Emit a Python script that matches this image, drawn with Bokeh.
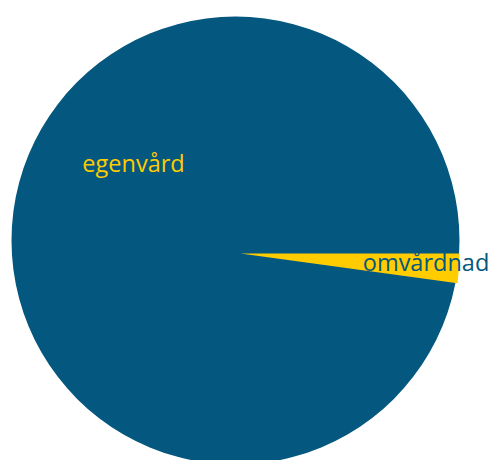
import math
from bokeh.plotting import figure
from bokeh.models import Range1d, ColumnDataSource
from bokeh.core.properties import value
from bokeh.embed import file_html
from bokeh.resources import INLINE

# Data
categories = ["egenvård", "omvårdnad"]
values = [45, 1]

# Styles
palette = ["#04587F", "#FFCC00"]
label_colors = ["#FFCC00", "#04587F"]

W, H = 491, 460
p = figure(width=W, height=H, output_backend="svg", toolbar_location=None,
           x_range=Range1d(0, W), y_range=Range1d(460 - H, 460),
           min_border=0, outline_line_color=None)
p.axis.visible = False
p.grid.visible = False
p.background_fill_color = "white"
p.border_fill_color = "white"

total = sum(values)
fracs = [v / total for v in values]

# pie geometry (positions)
cx, cy, r = 235, 460 - 240, 224
sx, sy, sr = 240, 460 - 253, 219

# big slice: egenvård (drawn as the pie disk beneath the small slice)
p.wedge(x=[cx], y=[cy], radius=r, start_angle=[0.0],
        end_angle=[2 * math.pi * (fracs[0] + fracs[1]) - 1e-6],
        fill_color=palette[0], line_color=None, radius_units="data")

# small slice: omvårdnad
p.wedge(x=[sx], y=[sy], radius=sr, start_angle=[-2 * math.pi * fracs[1]], end_angle=[0.0],
        fill_color=palette[1], line_color=None, radius_units="data")

# labels
lab_x = [133, 425.5]
lab_y = [460 - 162, 460 - 261.5]
src = ColumnDataSource(dict(x=lab_x, y=lab_y, t=categories, c=label_colors))
p.text(x="x", y="y", text="t", text_color="c", source=src,
       text_font=value("Open Sans"), text_font_size="23.5px",
       text_align="center", text_baseline="alphabetic")

open("out.html", "w").write(file_html(p, INLINE))
